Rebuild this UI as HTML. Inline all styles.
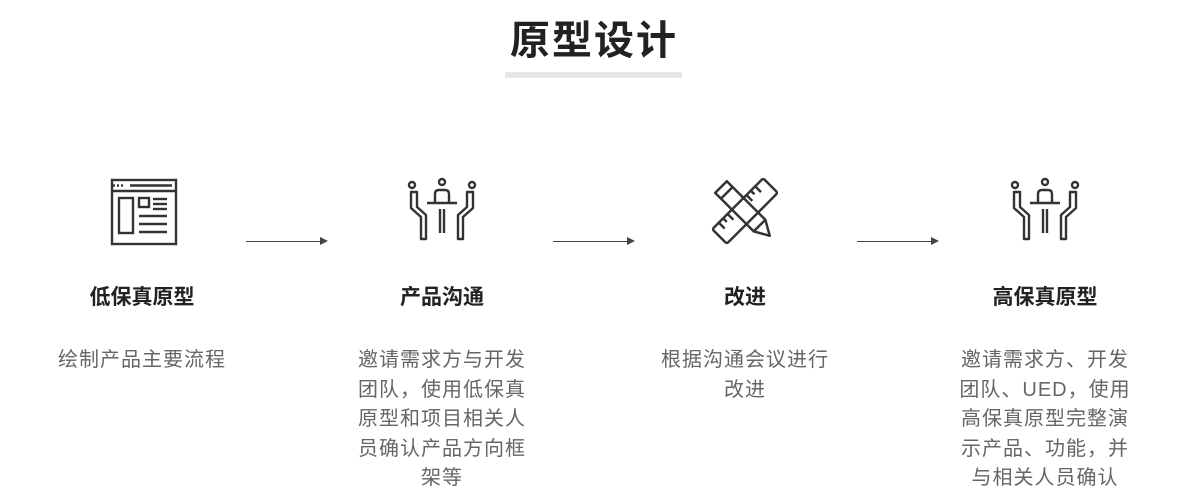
<!DOCTYPE html>
<html><head><meta charset="utf-8"><style>
body{margin:0;width:1200px;height:498px;background:#fff;position:relative;overflow:hidden;font-family:"Liberation Sans","Noto Sans CJK SC",sans-serif;}
.t{position:absolute;left:0;width:1188px;text-align:center;top:8px;font-size:40px;font-weight:bold;color:#222;letter-spacing:2px}
.bar{position:absolute;left:505px;top:72px;width:177px;height:6px;background:#e6e6e6}
.col{position:absolute;top:0;width:200px;text-align:center}
.h{position:absolute;top:281px;width:200px;font-size:21px;font-weight:bold;color:#222}
.d{position:absolute;top:346px;left:8px;width:184px;font-size:20px;line-height:29.5px;color:#666;letter-spacing:1px}
svg.i{position:absolute;top:176px;left:64px}
.ar{position:absolute;top:241px;height:1px;background:#444}
.ar:after{content:"";position:absolute;right:-2px;top:-4px;border-left:8px solid #444;border-top:4.5px solid transparent;border-bottom:4.5px solid transparent}
</style></head><body>
<div class="t">原型设计</div>
<div class="bar"></div>

<div class="col" style="left:42px">
<svg class="i" width="72" height="70" viewBox="0 0 72 70" fill="none" stroke="#333" stroke-width="2.4">
<rect x="6" y="4" width="64" height="64"/><line x1="6" y1="15" x2="70" y2="15"/>
<line x1="7" y1="9.5" x2="9" y2="9.5"/><line x1="11" y1="9.5" x2="13" y2="9.5"/><line x1="15" y1="9.5" x2="17" y2="9.5"/><line x1="24" y1="9.5" x2="66" y2="9.5"/>
<rect x="13" y="22" width="14" height="35"/><rect x="33" y="22" width="10" height="9"/>
<line x1="47" y1="23" x2="61" y2="23"/><line x1="47" y1="28" x2="61" y2="28"/><line x1="47" y1="33" x2="61" y2="33"/>
<line x1="33" y1="40" x2="61" y2="40"/><line x1="33" y1="48" x2="61" y2="48"/><line x1="33" y1="56" x2="61" y2="56"/>
</svg>
<div class="h">低保真原型</div>
<div class="d">绘制产品主要流程</div>
</div>

<div class="col" style="left:342px">
<svg class="i" width="76" height="70" viewBox="0 0 72 70" fill="none" stroke="#333" stroke-width="2.4" stroke-linejoin="round" style="left:62px">
<circle cx="6" cy="9" r="3"/><circle cx="36" cy="6" r="3"/><circle cx="66" cy="9" r="3"/>
<path d="M5 16 v16 l10 9 v22 h5 v-24 l-9 -8 v-15 z"/><path d="M67 16 v16 l-10 9 v22 h-5 v-24 l9 -8 v-15 z"/>
<path d="M29 26 v-8 q0 -4 4 -4 h6 q4 0 4 4 v8"/><line x1="21" y1="27" x2="51" y2="27"/>
<line x1="34" y1="33" x2="34" y2="57"/><line x1="38" y1="33" x2="38" y2="57"/>
</svg>
<div class="h">产品沟通</div>
<div class="d">邀请需求方与开发团队，使用低保真原型和项目相关人员确认产品方向框架等</div>
</div>

<div class="col" style="left:645px">
<svg class="i" width="76" height="72" viewBox="0 0 72 70" fill="none" stroke="#333" stroke-width="2.4" stroke-linejoin="round" style="left:62px;top:174px">
<g transform="rotate(45 36 36)"><rect x="26" y="1" width="20" height="70" rx="2"/><line x1="26" y1="12" x2="34" y2="12"/><line x1="26" y1="18" x2="31" y2="18"/><line x1="26" y1="24" x2="34" y2="24"/><line x1="26" y1="50" x2="34" y2="50"/><line x1="26" y1="56" x2="31" y2="56"/><line x1="26" y1="62" x2="34" y2="62"/></g>
<g transform="rotate(-45 36 36)"><path d="M28 3 h16 v53 l-8 14 l-8 -14 z"/><line x1="28" y1="11" x2="44" y2="11"/><line x1="28" y1="56" x2="44" y2="56"/></g>
</svg>
<div class="h">改进</div>
<div class="d">根据沟通会议进行改进</div>
</div>

<div class="col" style="left:945px">
<svg class="i" width="76" height="70" viewBox="0 0 72 70" fill="none" stroke="#333" stroke-width="2.4" stroke-linejoin="round" style="left:62px">
<circle cx="6" cy="9" r="3"/><circle cx="36" cy="6" r="3"/><circle cx="66" cy="9" r="3"/>
<path d="M5 16 v16 l10 9 v22 h5 v-24 l-9 -8 v-15 z"/><path d="M67 16 v16 l-10 9 v22 h-5 v-24 l9 -8 v-15 z"/>
<path d="M29 26 v-8 q0 -4 4 -4 h6 q4 0 4 4 v8"/><line x1="21" y1="27" x2="51" y2="27"/>
<line x1="34" y1="33" x2="34" y2="57"/><line x1="38" y1="33" x2="38" y2="57"/>
</svg>
<div class="h">高保真原型</div>
<div class="d">邀请需求方、开发团队、UED，使用高保真原型完整演示产品、功能，并与相关人员确认</div>
</div>

<div class="ar" style="left:246px;width:80px"></div>
<div class="ar" style="left:553px;width:80px"></div>
<div class="ar" style="left:857px;width:80px"></div>
</body></html>
